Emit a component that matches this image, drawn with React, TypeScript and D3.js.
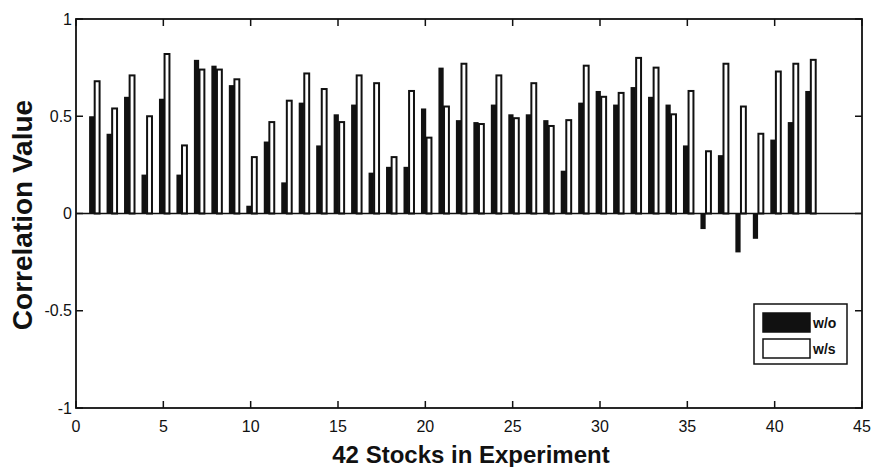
import React, { useRef, useEffect } from "react"
import * as d3 from "d3"

// correlation per stock
const stocks = d3.range(1, 43)
const withoutS = [0.50, 0.41, 0.60, 0.20, 0.59, 0.20, 0.79, 0.76, 0.66, 0.04, 0.37, 0.16, 0.57, 0.35, 0.51, 0.56, 0.21, 0.24, 0.24, 0.54, 0.75, 0.48, 0.47, 0.56, 0.51, 0.51, 0.48, 0.22, 0.57, 0.63, 0.56, 0.65, 0.60, 0.56, 0.35, -0.08, 0.30, -0.20, -0.13, 0.38, 0.47, 0.63]
const withS = [0.68, 0.54, 0.71, 0.50, 0.82, 0.35, 0.74, 0.74, 0.69, 0.29, 0.47, 0.58, 0.72, 0.64, 0.47, 0.71, 0.67, 0.29, 0.63, 0.39, 0.55, 0.77, 0.46, 0.71, 0.49, 0.67, 0.45, 0.48, 0.76, 0.60, 0.62, 0.80, 0.75, 0.51, 0.63, 0.32, 0.77, 0.55, 0.41, 0.73, 0.77, 0.79]
const xTicks = [0, 5, 10, 15, 20, 25, 30, 35, 40, 45]
const yTicks = [-1, -0.5, 0, 0.5, 1]
const seriesNames = ["w/o", "w/s"]

const W = 874
const H = 467

const App = () => {
  const ref = useRef<SVGSVGElement>(null)

  useEffect(() => {
    const svg = d3.select(ref.current)
    svg.selectAll("*").remove()

    const x = d3.scaleLinear().domain([0, 45]).range([76, 862])
    const y = d3.scaleLinear().domain([-1, 1]).range([408, 19])
    const font = "'Liberation Sans', Arial, sans-serif"
    const tick = 7

    // bars: black = w/o, white = w/s
    const g = svg.append("g")
    g.selectAll("rect.wo")
      .data(stocks)
      .enter()
      .append("rect")
      .attr("class", "wo")
      .attr("x", d => x(d - 0.25))
      .attr("width", x(0.3) - x(0))
      .attr("y", (d, i) => y(Math.max(0, withoutS[i])))
      .attr("height", (d, i) => Math.abs(y(withoutS[i]) - y(0)))
      .attr("fill", "#111")

    g.selectAll("rect.ws")
      .data(stocks)
      .enter()
      .append("rect")
      .attr("class", "ws")
      .attr("x", d => x(d + 0.07))
      .attr("width", x(0.28) - x(0))
      .attr("y", (d, i) => y(Math.max(0, withS[i])))
      .attr("height", (d, i) => Math.abs(y(withS[i]) - y(0)))
      .attr("fill", "#fff")
      .attr("stroke", "#111")
      .attr("stroke-width", 2)

    // zero baseline
    svg.append("line")
      .attr("x1", x(0)).attr("x2", x(45))
      .attr("y1", y(0)).attr("y2", y(0))
      .attr("stroke", "#111").attr("stroke-width", 1.6)

    // frame
    svg.append("rect")
      .attr("x", x(0)).attr("y", y(1))
      .attr("width", x(45) - x(0)).attr("height", y(-1) - y(1))
      .attr("fill", "none").attr("stroke", "#111").attr("stroke-width", 1.8)

    // inward ticks on all four sides
    const ticks = svg.append("g").attr("stroke", "#111").attr("stroke-width", 1.5)
    xTicks.forEach(t => {
      ticks.append("line").attr("x1", x(t)).attr("x2", x(t)).attr("y1", y(-1)).attr("y2", y(-1) - tick)
      ticks.append("line").attr("x1", x(t)).attr("x2", x(t)).attr("y1", y(1)).attr("y2", y(1) + tick)
    })
    yTicks.forEach(t => {
      ticks.append("line").attr("x1", x(0)).attr("x2", x(0) + tick).attr("y1", y(t)).attr("y2", y(t))
      ticks.append("line").attr("x1", x(45)).attr("x2", x(45) - tick).attr("y1", y(t)).attr("y2", y(t))
    })

    // tick labels
    svg.append("g")
      .selectAll("text")
      .data(xTicks)
      .enter()
      .append("text")
      .attr("x", d => x(d))
      .attr("y", 432)
      .attr("text-anchor", "middle")
      .attr("font-family", font)
      .attr("font-size", 16)
      .attr("fill", "#111")
      .text(d => d)

    svg.append("g")
      .selectAll("text")
      .data(yTicks)
      .enter()
      .append("text")
      .attr("x", 72)
      .attr("y", d => y(d))
      .attr("dy", "0.35em")
      .attr("text-anchor", "end")
      .attr("font-family", font)
      .attr("font-size", 16)
      .attr("fill", "#111")
      .text(d => d)

    // axis titles
    svg.append("text")
      .attr("x", 471).attr("y", 463)
      .attr("text-anchor", "middle")
      .attr("font-family", font)
      .attr("font-weight", "bold")
      .attr("font-size", 24)
      .attr("fill", "#111")
      .text("42 Stocks in Experiment")

    svg.append("text")
      .attr("transform", "translate(32,215) rotate(-90)")
      .attr("text-anchor", "middle")
      .attr("font-family", font)
      .attr("font-weight", "bold")
      .attr("font-size", 28)
      .attr("fill", "#111")
      .text("Correlation Value")

    // legend
    const lg = svg.append("g")
    lg.append("rect")
      .attr("x", 754).attr("y", 304).attr("width", 93).attr("height", 60)
      .attr("fill", "#fff").attr("stroke", "#111").attr("stroke-width", 1.5)
    seriesNames.forEach((name, i) => {
      lg.append("rect")
        .attr("x", 763).attr("y", 313 + i * 26).attr("width", 47).attr("height", 19)
        .attr("fill", i === 0 ? "#111" : "#fff")
        .attr("stroke", "#111").attr("stroke-width", 1.5)
      lg.append("text")
        .attr("x", 813).attr("y", 323 + i * 26)
        .attr("dy", "0.35em")
        .attr("font-family", font)
        .attr("font-weight", "bold")
        .attr("font-size", 14)
        .attr("fill", "#111")
        .text(name)
    })
  }, [])

  return (
    <svg ref={ref} width={W} height={H} style={{ position: "absolute", left: 0, top: 0, background: "#fff" }} />
  )
}

export default App
